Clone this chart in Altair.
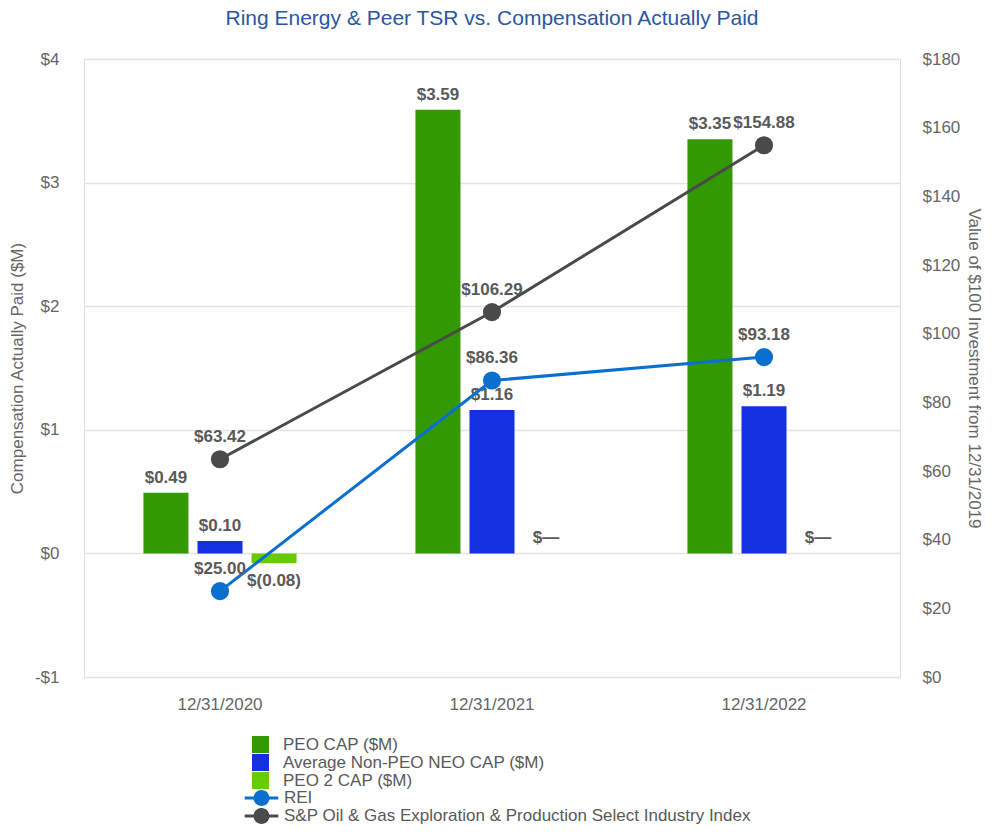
import altair as alt
import pandas as pd

categories = ["12/31/2020", "12/31/2021", "12/31/2022"]
bar_series = ["PEO CAP ($M)", "Average Non-PEO NEO CAP ($M)", "PEO 2 CAP ($M)"]
peo_cap = [0.49, 3.59, 3.35]
non_peo_cap = [0.10, 1.16, 1.19]
peo2_cap = [-0.08, 0.0, 0.0]
bar_colors = ["#339900", "#1430e0", "#66cc00"]

line_series = ["REI", "S&P Oil & Gas Exploration & Production Select Industry Index"]
rei = [25.00, 86.36, 93.18]
sp_index = [63.42, 106.29, 154.88]
line_colors = ["#0a6fcf", "#4a4a4a"]

left_ticks = [-1, 0, 1, 2, 3, 4]
right_ticks = [0, 20, 40, 60, 80, 100, 120, 140, 160, 180]

FONT = "Liberation Sans"
TXT = "#595959"


def money(v):
    if v == 0:
        return "$\u2014"
    if v < 0:
        return f"$({abs(v):.2f})"
    return f"${v:.2f}"


bar_rows = []
for s, vals in zip(bar_series, [peo_cap, non_peo_cap, peo2_cap]):
    for c, v in zip(categories, vals):
        bar_rows.append({"cat": c, "series": s, "value": v, "label": money(v)})
bars_df = pd.DataFrame(bar_rows)

line_rows = []
for s, vals in zip(line_series, [rei, sp_index]):
    for c, v in zip(categories, vals):
        line_rows.append({"cat": c, "line": s, "value": v, "label": money(v)})
lines_df = pd.DataFrame(line_rows)

x_enc = alt.X(
    "cat:N",
    sort=categories,
    scale=alt.Scale(paddingInner=0.404, paddingOuter=0.202),
    axis=alt.Axis(
        title=None, labelAngle=0, domain=False, ticks=False, grid=False,
        labelFont=FONT, labelFontSize=17, labelColor="#666666", labelPadding=19,
    ),
)
xoff_enc = alt.XOffset(
    "series:N", sort=bar_series,
    scale=alt.Scale(paddingInner=0.167, paddingOuter=0.083),
)
y_left = alt.Y(
    "value:Q",
    scale=alt.Scale(domain=[-1, 4], nice=False, zero=False),
    axis=alt.Axis(
        title="Compensation Actually Paid ($M)", values=left_ticks,
        labelExpr="datum.value < 0 ? '-$' + abs(datum.value) : '$' + datum.value",
        domain=False, ticks=False, grid=True, gridColor="#e3e3e3", gridWidth=1.5,
        labelFont=FONT, labelFontSize=17, labelColor="#666666", labelPadding=25,
        titleFont=FONT, titleFontSize=17, titleFontWeight="normal", titleColor="#666666",
        titlePadding=8,
    ),
)

bars = alt.Chart(bars_df).mark_bar().encode(
    x=x_enc,
    xOffset=xoff_enc,
    y=y_left,
    color=alt.Color(
        "series:N", sort=bar_series,
        scale=alt.Scale(domain=bar_series, range=bar_colors),
        legend=alt.Legend(
            title=None, orient="none", legendX=168, legendY=677,
            symbolType="square", symbolSize=289, symbolStrokeWidth=0,
            labelFont=FONT, labelFontSize=17, labelColor=TXT, labelOffset=14,
            labelLimit=800, rowPadding=0, padding=0,
        ),
    ),
)

bar_text_pos = alt.Chart(bars_df).transform_filter("datum.value >= 0").mark_text(
    font=FONT, fontSize=17, fontWeight="bold", color=TXT, baseline="alphabetic", dy=-10
).encode(x=x_enc, xOffset=xoff_enc, y=y_left, text="label:N")

bar_text_neg = alt.Chart(bars_df).transform_filter("datum.value < 0").mark_text(
    font=FONT, fontSize=17, fontWeight="bold", color=TXT, baseline="top", dy=10
).encode(x=x_enc, xOffset=xoff_enc, y=y_left, text="label:N")

bar_layer = alt.layer(bars, bar_text_pos, bar_text_neg)

y_right = alt.Y(
    "value:Q",
    scale=alt.Scale(domain=[0, 180], nice=False),
    axis=alt.Axis(
        orient="right", title="Value of $100 Investment from 12/31/2019",
        values=right_ticks, labelExpr="'$' + datum.value",
        domain=False, ticks=False, grid=False,
        labelFont=FONT, labelFontSize=17, labelColor="#666666", labelPadding=22,
        titleFont=FONT, titleFontSize=17, titleFontWeight="normal", titleColor="#666666",
        titlePadding=5,
    ),
)

line_path = (
    "M-2.1,-0.19L2.1,-0.19L2.1,0.19L-2.1,0.19Z"
    "M-1,0A1,1 0 1 1 1,0A1,1 0 1 1 -1,0Z"
)

lines = alt.Chart(lines_df).mark_line(strokeWidth=3).encode(
    x=x_enc, y=y_right,
    stroke=alt.Stroke("line:N", sort=line_series,
                      scale=alt.Scale(domain=line_series, range=line_colors), legend=None),
)

points = alt.Chart(lines_df).mark_point(filled=True, size=330, opacity=1).encode(
    x=x_enc, y=y_right,
    color=alt.Color(
        "line:N", sort=line_series,
        scale=alt.Scale(domain=line_series, range=line_colors),
        legend=alt.Legend(
            title=None, orient="none", legendX=169, legendY=730.5,
            symbolType=line_path, symbolSize=256, symbolStrokeWidth=0,
            labelFont=FONT, labelFontSize=17, labelColor=TXT, labelOffset=14,
            labelLimit=800, rowPadding=0, padding=0,
        ),
    ),
)

line_text = alt.Chart(lines_df).mark_text(
    font=FONT, fontSize=17, fontWeight="bold", color=TXT, baseline="alphabetic", dy=-17
).encode(x=x_enc, y=y_right, text="label:N")

line_layer = alt.layer(lines, points, line_text)

chart = alt.layer(bar_layer, line_layer).resolve_scale(
    y="independent", color="independent"
).properties(
    width=816,
    height=618,
    title=alt.TitleParams(
        "Ring Energy & Peer TSR vs. Compensation Actually Paid",
        font=FONT, fontSize=21, fontWeight="normal", color="#2a56a5",
        anchor="middle", offset=21,
    ),
).configure_view(stroke=None).configure(padding=0)

chart.save("out.html", embed_options={"renderer": "svg", "actions": False})
